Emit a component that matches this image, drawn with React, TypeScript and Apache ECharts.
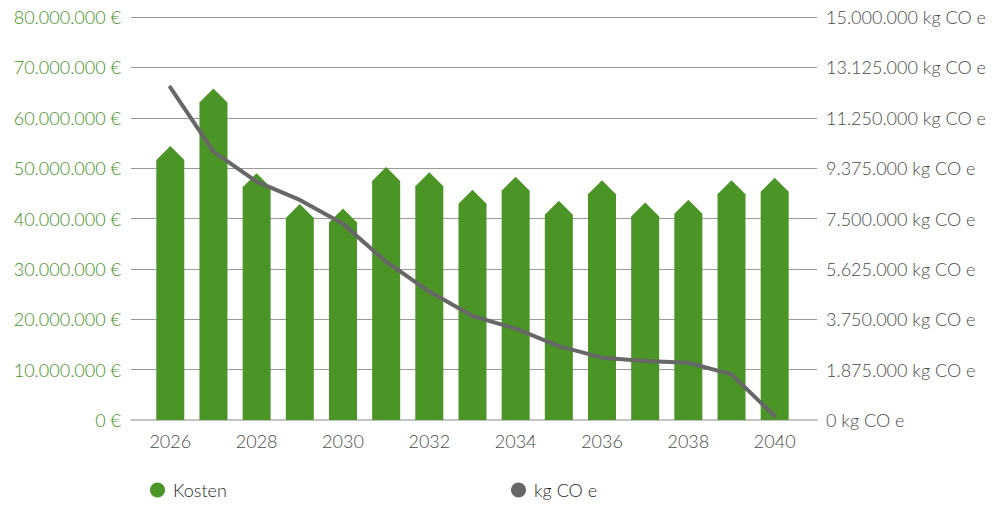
import React, { useEffect, useRef } from "react";
import * as echarts from "echarts";

// Jahre der Planung
const years = [2026, 2027, 2028, 2029, 2030, 2031, 2032, 2033, 2034, 2035, 2036, 2037, 2038, 2039, 2040];
// Kosten in Euro (linke Achse)
const kosten = [
  54400000, 65800000, 49000000, 42900000, 42000000, 50200000, 49200000, 45700000,
  48300000, 43500000, 47600000, 43200000, 43700000, 47600000, 48100000,
];
// Emissionen in kg CO e (rechte Achse)
const co2 = [
  12380000, 9990000, 8870000, 8190000, 7300000, 5890000, 4780000, 3870000,
  3400000, 2750000, 2320000, 2200000, 2130000, 1700000, 150000,
];
// beschriftete Jahre auf der x-Achse
const yearTicks = [2026, 2028, 2030, 2032, 2034, 2036, 2038, 2040];

const GREEN = "#4a9526";
const GREY_LINE = "#676767";
const FONT = "Lato, 'Open Sans', sans-serif";
const FS = 18;
const FW = 300;

const thousands = (n: number) =>
  Math.round(n).toString().replace(/\B(?=(\d{3})+(?!\d))/g, ".");

export default function App() {
  const ref = useRef<HTMLDivElement>(null);

  useEffect(() => {
    if (!ref.current) return;
    const chart = echarts.init(ref.current, undefined, { renderer: "svg" });

    const barData = years.map((y, i) => [y, kosten[i]]);
    const lineData = years.map((y, i) => [y, co2[i]]);

    const legendText = {
      fontFamily: FONT,
      fontSize: FS,
      fontWeight: FW,
      color: "#1f1f1f",
      padding: [0, 0, 0, 3],
    };

    chart.setOption({
      animation: false,
      textStyle: { fontFamily: FONT },
      grid: { left: 131, right: 175, top: 17, bottom: 90, containLabel: false },
      legend: [
        {
          data: ["Kosten"],
          left: 150,
          top: 481,
          padding: 0,
          icon: "circle",
          itemWidth: 15,
          itemHeight: 15,
          textStyle: legendText,
        },
        {
          data: ["kg CO e"],
          left: 511,
          top: 481,
          padding: 0,
          icon: "circle",
          itemWidth: 15,
          itemHeight: 15,
          textStyle: legendText,
        },
      ],
      xAxis: {
        type: "value",
        min: 2025.09,
        max: 2040.98,
        axisLine: { show: true, lineStyle: { color: "#c4c4c4", width: 2 } },
        axisTick: { show: false },
        splitLine: { show: false },
        axisLabel: {
          customValues: yearTicks,
          formatter: (v: number) => String(v),
          color: "#4a4a4a",
          fontSize: FS,
          fontWeight: FW,
          fontFamily: FONT,
          margin: 12,
        },
      },
      yAxis: [
        {
          type: "value",
          min: 0,
          max: 80000000,
          interval: 10000000,
          axisLine: { show: false },
          axisTick: { show: false },
          splitLine: { show: true, lineStyle: { color: "#9a9a9a", width: 1 } },
          axisLabel: {
            formatter: (v: number) => thousands(v) + " €",
            color: "#3f8f1c",
            fontSize: FS,
            fontWeight: FW,
            fontFamily: FONT,
            margin: 10,
          },
        },
        {
          type: "value",
          min: 0,
          max: 15000000,
          interval: 1875000,
          position: "right",
          axisLine: { show: false },
          axisTick: { show: false },
          splitLine: { show: false },
          axisLabel: {
            formatter: (v: number) => thousands(v) + " kg CO e",
            color: "#4a4a4a",
            fontSize: FS,
            fontWeight: FW,
            fontFamily: FONT,
            margin: 9,
          },
        },
      ],
      series: [
        {
          name: "Kosten",
          type: "custom",
          yAxisIndex: 0,
          itemStyle: { color: GREEN },
          encode: { x: 0, y: 1 },
          data: barData,
          renderItem: (params: any, api: any) => {
            const x = api.value(0);
            const v = api.value(1);
            const tip = api.coord([x, v]);
            const base = api.coord([x, 0]);
            const hw = 14;
            const peak = 14;
            return {
              type: "polygon",
              shape: {
                points: [
                  [tip[0] - hw, base[1]],
                  [tip[0] - hw, tip[1] + peak],
                  [tip[0], tip[1]],
                  [tip[0] + hw, tip[1] + peak],
                  [tip[0] + hw, base[1]],
                ],
              },
              style: { fill: GREEN },
            };
          },
        },
        {
          name: "kg CO e",
          type: "line",
          yAxisIndex: 1,
          data: lineData,
          symbol: "none",
          itemStyle: { color: GREY_LINE },
          lineStyle: { color: GREY_LINE, width: 4, cap: "round", join: "round" },
          z: 5,
        },
      ],
    });

    return () => chart.dispose();
  }, []);

  return (
    <div
      ref={ref}
      style={{ position: "absolute", left: 0, top: 0, width: 992, height: 510 }}
    />
  );
}
